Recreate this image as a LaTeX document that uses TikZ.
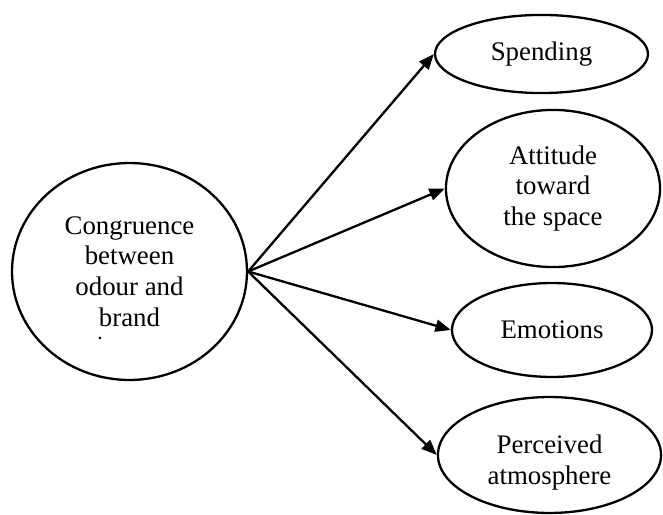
\documentclass[tikz,border=0pt]{standalone}
\usepackage{fontspec}
\setmainfont{Liberation Serif}
\usepackage{tikz}
\usetikzlibrary{shapes.geometric}
\usetikzlibrary{arrows.meta}

\tikzset{
  txt/.style={font=\fontsize{12.2pt}{14pt}\selectfont},
  oval/.style={draw, ellipse, line width=1.05pt, inner sep=0pt, align=center, txt},
  link/.style={-{Triangle[length=7pt,width=5.5pt]}, line width=1.05pt}
}

\begin{document}
\begin{tikzpicture}[x=0.4545pt, y=-0.4545pt]
  \useasboundingbox (0,0) rectangle (663,515);

\node[oval, minimum width=106.8pt, minimum height=98.6pt] (congr) at (129.5,271.5)
  {Congruence\\between\\odour and\\brand};
\node[anchor=base, inner sep=0pt, font=\fontsize{7pt}{8pt}\selectfont\bfseries] (stop) at (100,340) {.};

\node[oval, minimum width=96.8pt, minimum height=35.5pt] (spend) at (541.5,54) {Spending};

\node[oval, minimum width=97.3pt, minimum height=71.4pt] (attit) at (553,188.5)
  {Attitude\\toward\\the space};

\node[oval, minimum width=90.9pt, minimum height=42.7pt] (emot) at (552,330) {Emotions};

\node[oval, minimum width=101.4pt, minimum height=52.7pt] (atmos) at (549.5,455)
  {\\[1pt]Perceived\\atmosphere};

\draw[link] (congr.east) -- (spend.west);
\draw[link] (congr.east) -- (attit.west);
\draw[link] (congr.east) -- (emot.west);
\draw[link] (congr.east) -- (atmos.west);

\end{tikzpicture}
\end{document}
